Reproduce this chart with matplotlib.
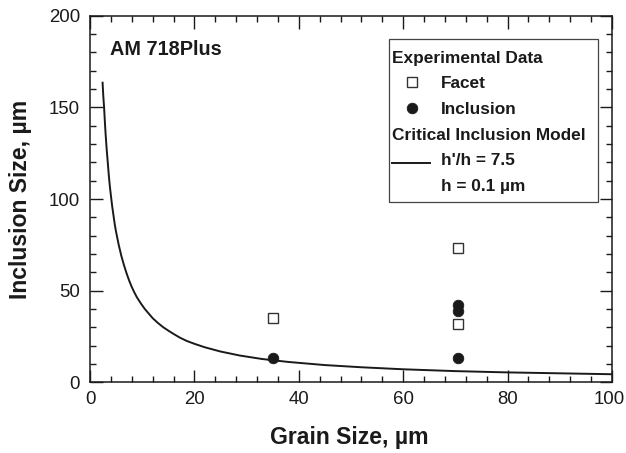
import matplotlib
matplotlib.use("Agg")
import matplotlib.pyplot as plt
from matplotlib.patches import Rectangle
from matplotlib.lines import Line2D
from matplotlib.transforms import ScaledTranslation

plt.rcParams['font.family'] = ['Liberation Sans', 'DejaVu Sans']

# ---- data ----
facet_x = [35, 70.5, 70.5]
facet_y = [35, 73, 32]
incl_x = [35, 70.5, 70.5, 70.5]
incl_y = [13, 42, 39, 13]

# Critical inclusion model curve (h'/h = 7.5, h = 0.1 um)
model_x = [2.4, 2.55, 2.7, 2.85, 3.0, 3.2, 3.4, 3.6, 3.8, 4.0, 4.25, 4.5, 4.75, 5.0,
           5.5, 6.0, 6.5, 7.0, 7.5, 8.0, 8.5, 9.0, 9.75, 10.5, 11.25, 12.0, 13.0,
           14.0, 15.0, 16.0, 17.2, 18.5, 20.0, 22.0, 25.0, 28.7, 33.0, 38.0, 45.0,
           52.0, 60.0, 70.0, 80.0, 90.0, 100.0]
model_y = [164, 156, 150, 142, 135, 127, 120, 113, 107, 102, 96, 91, 86, 82,
           75, 69, 64, 59.5, 55.5, 52, 49, 46.3, 43, 40, 37.5, 35, 32.4,
           30.1, 28.2, 26.4, 24.4, 22.6, 21, 19.1, 16.8, 14.6, 12.7, 11.1, 9.4,
           8.2, 7.1, 6.1, 5.4, 4.9, 4.4]

xticks = [0, 20, 40, 60, 80, 100]
yticks = [0, 50, 100, 150, 200]

W, H = 626, 453
fig = plt.figure(figsize=(W / 100, H / 100), dpi=100)
AX_L, AX_R, AX_T, AX_B = 90, 612, 15.7, 382.3
ax = fig.add_axes([AX_L / W, 1 - AX_B / H, (AX_R - AX_L) / W, (AX_B - AX_T) / H])

ink = '#1a1a1a'

def px2ax(px, py):
    return (px - AX_L) / (AX_R - AX_L), (AX_B - py) / (AX_B - AX_T)

ax.plot(model_x, model_y, color=ink, lw=1.4, solid_capstyle='butt', solid_joinstyle='round')
ax.plot(facet_x, facet_y, linestyle='none', marker='s', markersize=6.6,
        markerfacecolor='white', markeredgecolor='#333333', markeredgewidth=1.0)
ax.plot(incl_x, incl_y, linestyle='none', marker='o', markersize=7.6,
        markerfacecolor=ink, markeredgecolor=ink, markeredgewidth=0.6)

ax.set_xlim(0, 100)
ax.set_ylim(0, 200)
ax.set_xticks(xticks)
ax.set_yticks(yticks)
ax.set_xticks(range(0, 101, 4), minor=True)
ax.set_yticks(range(0, 201, 10), minor=True)
ax.tick_params(which='both', direction='in', top=True, right=True, colors=ink,
               width=1.0, labelsize=13.4)
ax.tick_params(which='major', length=9)
ax.tick_params(which='minor', length=4.3)
ax.tick_params(axis='x', pad=6.5)
ax.tick_params(axis='y', pad=7.2)
for s in ax.spines.values():
    s.set_linewidth(1.1)
    s.set_color(ink)

# keep the last x tick label inside the canvas
fig.canvas.draw()
last = ax.get_xticklabels()[-1]
last.set_transform(last.get_transform() + ScaledTranslation(-2.5 / 100, 0, fig.dpi_scale_trans))

ax.set_xlabel('Grain Size, µm', fontsize=16.6, fontweight='bold', color=ink, va='baseline')
ax.xaxis.set_label_coords(0.497, px2ax(0, 444)[1])
ax.set_ylabel('Inclusion Size, µm', fontsize=16.6, fontweight='bold', color=ink)
ax.yaxis.set_label_coords(px2ax(31.6, 0)[0], 0.5)

# panel title
tx, ty = px2ax(110, 55)
ax.text(tx, ty, 'AM 718Plus', transform=ax.transAxes, fontsize=14.3,
        fontweight='bold', color=ink, va='baseline', ha='left')

# legend box (drawn by hand to follow the reference layout)
bl = px2ax(389.3, 202.3)
tr = px2ax(597.7, 39.3)
ax.add_patch(Rectangle(bl, tr[0] - bl[0], tr[1] - bl[1], transform=ax.transAxes,
                       facecolor='white', edgecolor='#444444', lw=0.9, zorder=5))
lfs = 12.4

def ltext(px, py, s):
    x, y = px2ax(px, py)
    ax.text(x, y, s, transform=ax.transAxes, fontsize=lfs, fontweight='bold',
            color=ink, va='baseline', ha='left', zorder=6)

ltext(392.3, 63.5, 'Experimental Data')
ltext(441, 88, 'Facet')
ltext(441, 113.5, 'Inclusion')
ltext(392.3, 139.5, 'Critical Inclusion Model')
ltext(441, 165, "h'/h = 7.5")
ltext(441, 190.5, 'h = 0.1 µm')

mx, my = px2ax(411.7, 82)
ax.add_line(Line2D([mx], [my], transform=ax.transAxes, linestyle='none', marker='s',
                   markersize=6.6, markerfacecolor='white', markeredgecolor='#333333',
                   markeredgewidth=1.0, zorder=6))
mx, my = px2ax(411.7, 107.5)
ax.add_line(Line2D([mx], [my], transform=ax.transAxes, linestyle='none', marker='o',
                   markersize=7.6, markerfacecolor=ink, markeredgecolor=ink,
                   markeredgewidth=0.6, zorder=6))
x0, ly = px2ax(392.3, 163.3)
x1, _ = px2ax(430, 163.3)
ax.add_line(Line2D([x0, x1], [ly, ly], transform=ax.transAxes, color=ink, lw=1.4, zorder=6))

fig.savefig('out.png', dpi=100)
